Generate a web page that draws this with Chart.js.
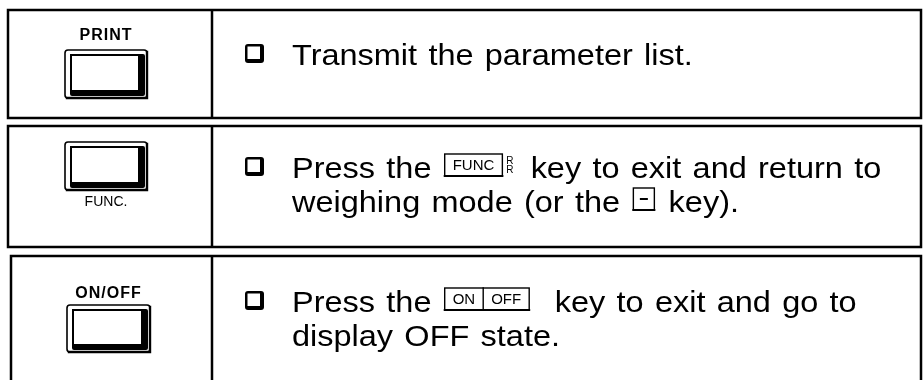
<!DOCTYPE html>
<html>
<head>
<meta charset="utf-8">
<script src="https://cdn.jsdelivr.net/npm/chart.js@4"></script>
<style>
  html, body { margin: 0; padding: 0; background: #fff; }
  #wrap { width: 924px; height: 380px; }
</style>
</head>
<body>
<div id="wrap"><canvas id="keys" width="924" height="380"></canvas></div>
<script>
// key captions in the left column
const keyNames = ['PRINT', 'FUNC.', 'ON/OFF'];
const keyLabelSide = ['top', 'bottom', 'top'];
// action text, one list per row; [..] is an inline key, | splits it, ^ is the small R mark
const actionLines = [
    ['Transmit the parameter list.'],
    ['Press the [FUNC]^ key to exit and return to', 'weighing mode (or the [-] key).'],
    ['Press the [ON|OFF]  key to exit and go to', 'display OFF state.']
];

// layout of the rows (pixel units of the hidden scales)
const rowTop = [10, 126, 256];
const rowBottom = [118, 247, 400];
const rowLeft = [8, 8, 11];
const colSplit = 212;
const rightEdge = 921;
const keyBox = [[65, 50, 147, 98], [65, 142, 147, 190], [67, 305, 150, 352]];
const keyLabelY = [36, 202, 294];
const firstBaseline = [65, 178, 312];
const lineGap = 34;
const textX = 292;
const boxX = 245;

const FONT = '"Liberation Sans", Arial, sans-serif';
const STRETCH = 1.12;

function drawKeyCap(ctx, x0, y0, x1, y1) {
    ctx.save();
    ctx.strokeStyle = '#000';
    ctx.lineWidth = 1.6;
    ctx.beginPath();
    ctx.roundRect(x0, y0, x1 - x0, y1 - y0, 3);
    ctx.stroke();
    ctx.lineWidth = 2.4;
    ctx.beginPath();
    ctx.moveTo(x0 + 2, y1);
    ctx.lineTo(x1, y1);
    ctx.lineTo(x1, y0 + 2);
    ctx.stroke();
    const ix0 = x0 + 7, iy0 = y0 + 6, ix1 = x1 - 9, iy1 = y1 - 8;
    ctx.fillStyle = '#000';
    ctx.beginPath();
    ctx.roundRect(ix0 - 2, iy0 - 2, ix1 - ix0 + 9, iy1 - iy0 + 8, 2);
    ctx.fill();
    ctx.fillStyle = '#fff';
    ctx.fillRect(ix0, iy0, ix1 - ix0, iy1 - iy0);
    ctx.fillStyle = '#000';
    ctx.fillRect(ix0 - 2, iy0 - 2, ix1 - ix0 + 2, 1.5);
    ctx.fillRect(ix0 - 2, iy0 - 2, 1.5, iy1 - iy0 + 2);
    ctx.restore();
}

function drawCheckBox(ctx, x, baseline) {
    ctx.save();
    ctx.fillStyle = '#000';
    ctx.beginPath();
    ctx.roundRect(x, baseline - 21, 19, 19, 3);
    ctx.fill();
    ctx.fillStyle = '#fff';
    ctx.fillRect(x + 2.5, baseline - 18.5, 12.5, 12.5);
    ctx.restore();
}

// split a line into plain text, inline keys and the R mark
function parseLine(str) {
    const parts = [];
    const re = /\[([^\]]+)\]|\^/g;
    let last = 0, m;
    while ((m = re.exec(str)) !== null) {
        if (m.index > last) parts.push({ t: 'text', v: str.slice(last, m.index) });
        if (m[0] === '^') parts.push({ t: 'mark' });
        else parts.push({ t: 'key', v: m[1].split('|') });
        last = re.lastIndex;
    }
    if (last < str.length) parts.push({ t: 'text', v: str.slice(last) });
    return parts;
}

function drawLine(ctx, str, x, baseline) {
    ctx.save();
    ctx.fillStyle = '#000';
    ctx.strokeStyle = '#000';
    ctx.textBaseline = 'alphabetic';
    ctx.textAlign = 'left';
    for (const p of parseLine(str)) {
        if (p.t === 'text') {
            ctx.font = '29px ' + FONT;
            ctx.wordSpacing = '2px';
            ctx.save();
            ctx.translate(x, baseline);
            ctx.scale(STRETCH, 1);
            ctx.fillText(p.v, 0, 0);
            ctx.restore();
            x += ctx.measureText(p.v).width * STRETCH;
            ctx.wordSpacing = '0px';
        } else if (p.t === 'mark') {
            ctx.font = '10px ' + FONT;
            ctx.fillText('R', x + 1, baseline - 14);
            ctx.fillText('R', x + 1, baseline - 5);
            x += 14;
        } else {
            ctx.font = '15px ' + FONT;
            const cells = p.v.map(c => Math.max(ctx.measureText(c).width + 16, 20));
            const w = cells.reduce((a, b) => a + b, 0);
            const top = baseline - 24, h = 22;
            const bx = x + 2;
            ctx.lineWidth = 1.4;
            ctx.strokeRect(bx, top, w, h);
            ctx.lineWidth = 2;
            ctx.beginPath();
            ctx.moveTo(bx, top + h);
            ctx.lineTo(bx + w, top + h);
            ctx.stroke();
            let cx = bx;
            p.v.forEach((c, i) => {
                if (i > 0) {
                    ctx.lineWidth = 1.4;
                    ctx.beginPath();
                    ctx.moveTo(cx, top);
                    ctx.lineTo(cx, top + h);
                    ctx.stroke();
                }
                ctx.textAlign = 'center';
                if (c === '-') {
                    ctx.fillRect(cx + cells[i] / 2 - 4, top + h / 2 - 1, 8, 2);
                } else {
                    ctx.fillText(c, cx + cells[i] / 2, top + 16);
                }
                ctx.textAlign = 'left';
                cx += cells[i];
            });
            x += w + 5;
        }
    }
    ctx.restore();
}

const tablePlugin = {
    id: 'keyTable',
    afterDraw(chart) {
        const ctx = chart.ctx;
        const sx = v => chart.scales.x.getPixelForValue(v);
        const sy = v => chart.scales.y.getPixelForValue(v);
        ctx.save();
        ctx.strokeStyle = '#000';
        ctx.lineCap = 'square';
        keyNames.forEach((name, i) => {
            // cell borders
            ctx.lineWidth = 2.5;
            ctx.beginPath();
            ctx.moveTo(sx(rightEdge), sy(rowTop[i]));
            ctx.lineTo(sx(rowLeft[i]), sy(rowTop[i]));
            ctx.lineTo(sx(rowLeft[i]), sy(rowBottom[i]));
            ctx.lineTo(sx(rightEdge), sy(rowBottom[i]));
            ctx.lineTo(sx(rightEdge), sy(rowTop[i]));
            ctx.moveTo(sx(colSplit), sy(rowTop[i]));
            ctx.lineTo(sx(colSplit), sy(rowBottom[i]));
            ctx.stroke();

            // key icon and its caption
            const b = keyBox[i];
            drawKeyCap(ctx, sx(b[0]), sy(b[1]), sx(b[2]), sy(b[3]));
            ctx.fillStyle = '#000';
            ctx.textAlign = 'center';
            ctx.textBaseline = 'middle';
            if (keyLabelSide[i] === 'top') {
                ctx.font = 'bold 16px ' + FONT;
                ctx.letterSpacing = '1px';
            } else {
                ctx.font = '14px ' + FONT;
                ctx.letterSpacing = '0px';
            }
            ctx.fillText(name, sx((b[0] + b[2]) / 2), sy(keyLabelY[i]));
            ctx.letterSpacing = '0px';

            // action text
            actionLines[i].forEach((ln, j) => {
                const base = sy(firstBaseline[i] + j * lineGap);
                if (j === 0) drawCheckBox(ctx, sx(boxX), base);
                drawLine(ctx, ln, sx(textX), base);
            });
        });
        ctx.restore();
    }
};

new Chart(document.getElementById('keys'), {
    type: 'scatter',
    data: {
        datasets: [{
            data: [],
            pointRadius: 0
        }]
    },
    options: {
        responsive: false,
        animation: false,
        layout: { padding: 0 },
        scales: {
            x: { type: 'linear', min: 0, max: 924, display: false },
            y: { type: 'linear', min: 0, max: 380, reverse: true, display: false }
        },
        plugins: {
            legend: { display: false },
            tooltip: { enabled: false }
        }
    },
    plugins: [tablePlugin]
});
</script>
</body>
</html>
